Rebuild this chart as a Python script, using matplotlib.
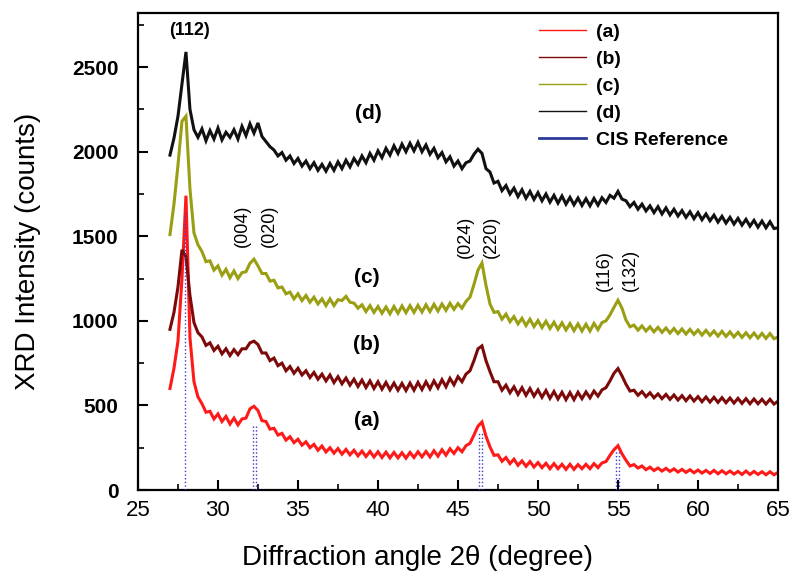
"""XRD patterns of CIS films (a)-(d) with CIS reference sticks."""
import matplotlib
matplotlib.use("Agg")
import matplotlib.pyplot as plt
import numpy as np
from matplotlib.ticker import MultipleLocator

# 2-theta sampling (degrees), one value every 0.25 deg from 27 to 65
two_theta = np.arange(27.0, 65.001, 0.25)

# intensities, rows of 8 = 2 degrees each
counts_a = [
    600, 720, 880, 1250, 1740, 900, 640, 550,
    510, 460, 465, 420, 450, 405, 435, 390,
    425, 385, 420, 425, 480, 495, 470, 410,
    405, 360, 365, 325, 335, 295, 315, 280,
    300, 265, 285, 250, 270, 235, 260, 225,
    250, 218, 245, 212, 240, 208, 235, 202,
    230, 198, 228, 195, 226, 192, 224, 190,
    222, 190, 220, 188, 222, 192, 226, 196,
    228, 196, 232, 200, 238, 206, 244, 216,
    250, 226, 262, 276, 325, 378, 402, 318,
    255, 205, 208, 170, 192, 156, 182, 146,
    172, 140, 168, 136, 162, 132, 158, 126,
    156, 126, 152, 122, 152, 122, 150, 126,
    152, 126, 156, 132, 160, 168, 205, 238,
    262, 214, 176, 142, 150, 130, 142, 120,
    135, 115, 130, 112, 128, 110, 125, 106,
    122, 104, 120, 102, 118, 100, 116, 98,
    116, 96, 114, 96, 112, 94, 110, 92,
    112, 92, 110, 92, 108, 90, 108, 90,
    104,
]
counts_b = [
    950, 1050, 1200, 1420, 1380, 1150, 990, 930,
    905, 855, 870, 825, 850, 805, 835, 795,
    830, 800, 835, 835, 870, 880, 860, 810,
    810, 765, 780, 735, 750, 705, 730, 690,
    720, 680, 705, 665, 695, 655, 685, 645,
    680, 635, 670, 628, 662, 620, 655, 612,
    650, 606, 645, 600, 640, 596, 636, 592,
    632, 590, 630, 588, 632, 590, 636, 594,
    640, 598, 645, 604, 652, 610, 660, 622,
    670, 640, 685, 705, 765, 835, 852, 765,
    700, 640, 640, 590, 620, 575, 610, 565,
    605, 560, 600, 555, 592, 548, 588, 542,
    582, 538, 578, 534, 576, 534, 578, 540,
    580, 545, 585, 555, 592, 605, 645, 690,
    718, 675, 625, 585, 590, 560, 582, 552,
    575, 545, 568, 540, 565, 536, 562, 532,
    558, 528, 556, 526, 552, 522, 550, 520,
    548, 518, 546, 516, 544, 514, 542, 512,
    540, 510, 538, 510, 536, 508, 536, 508,
    525,
]
counts_c = [
    1510, 1690, 1920, 2180, 2210, 1780, 1520, 1450,
    1410, 1350, 1355, 1300, 1325, 1270, 1305, 1255,
    1295, 1250, 1285, 1290, 1340, 1365, 1325, 1280,
    1280, 1235, 1240, 1195, 1200, 1160, 1170, 1130,
    1160, 1120, 1150, 1110, 1140, 1100, 1130, 1090,
    1130, 1090, 1125, 1120, 1145, 1110, 1105, 1075,
    1095, 1055, 1090, 1050, 1085, 1045, 1082, 1042,
    1085, 1045, 1088, 1048, 1090, 1050, 1092, 1052,
    1095, 1055, 1098, 1058, 1100, 1062, 1104, 1068,
    1102, 1075, 1115, 1140, 1215, 1300, 1342, 1210,
    1100, 1050, 1055, 1010, 1040, 995, 1025, 982,
    1015, 972, 1010, 966, 1002, 960, 998, 955,
    992, 950, 988, 946, 984, 942, 982, 940,
    980, 940, 985, 948, 990, 1000, 1035, 1080,
    1122, 1075, 1005, 965, 975, 945, 970, 940,
    965, 935, 962, 932, 958, 928, 955, 925,
    952, 922, 950, 920, 946, 916, 944, 914,
    940, 910, 938, 908, 935, 905, 932, 902,
    930, 900, 928, 898, 926, 896, 925, 894,
    905,
]
counts_d = [
    1980, 2080, 2210, 2400, 2590, 2250, 2130, 2085,
    2135, 2065, 2125, 2075, 2140, 2070, 2115, 2085,
    2130, 2075, 2150, 2095, 2165, 2110, 2170, 2090,
    2060, 2030, 2010, 1975, 1995, 1950, 1975, 1930,
    1960, 1915, 1945, 1900, 1935, 1890, 1925, 1885,
    1930, 1890, 1940, 1900, 1950, 1910, 1960, 1925,
    1975, 1935, 1990, 1950, 2005, 1965, 2020, 1980,
    2035, 1990, 2045, 2000, 2050, 2005, 2055, 2000,
    2040, 1985, 2020, 1965, 1995, 1940, 1970, 1915,
    1945, 1900, 1935, 1945, 1985, 2015, 1990, 1900,
    1880, 1815, 1825, 1770, 1800, 1750, 1785, 1735,
    1775, 1725, 1765, 1718, 1758, 1710, 1750, 1702,
    1742, 1696, 1738, 1690, 1730, 1686, 1726, 1682,
    1722, 1680, 1724, 1684, 1728, 1700, 1742, 1725,
    1765, 1720, 1710, 1675, 1700, 1660, 1690, 1650,
    1680, 1640, 1675, 1632, 1668, 1626, 1660, 1620,
    1652, 1612, 1645, 1604, 1640, 1598, 1632, 1592,
    1625, 1584, 1618, 1578, 1612, 1572, 1606, 1566,
    1600, 1560, 1594, 1554, 1590, 1550, 1586, 1546,
    1550,
]

series_labels = ["(a)", "(b)", "(c)", "(d)"]
series_colors = ["#ff1a1a", "#7d0a0a", "#9a9e12", "#111111"]

# CIS reference sticks
ref_pos = [27.92, 32.18, 32.40, 46.30, 46.48, 54.90, 55.08]
ref_height = [1650, 380, 380, 340, 340, 230, 230]

# plane labels: (text, x, y)
planes = [("(004)", 31.55, 1560), ("(020)", 33.2, 1560),
          ("(024)", 45.45, 1495), ("(220)", 47.1, 1495),
          ("(116)", 54.15, 1300), ("(132)", 55.75, 1300)]
curve_tags = [("(a)", 39.3, 410), ("(b)", 39.3, 860),
              ("(c)", 39.3, 1255), ("(d)", 39.4, 2228)]

plt.rcParams["font.family"] = ["Liberation Sans", "DejaVu Sans"]

fig = plt.figure(figsize=(7.92, 5.76), dpi=100)
ax = fig.add_axes([0.1742, 0.1493, 0.8081, 0.8281])

for ys, lab, col in zip([counts_a, counts_b, counts_c, counts_d],
                        series_labels, series_colors):
    ax.plot(two_theta, ys, color=col, lw=2.2, solid_joinstyle="miter",
            label=lab)

ax.vlines(ref_pos, 0, ref_height, colors="#3a3ad0", linestyles=":",
          lw=1.0, zorder=5)
ax.plot([], [], color="#2a3a9a", lw=2.0, label="CIS Reference")

ax.text(28.25, 2718, "(112)", ha="center", va="center", fontsize=13,
        fontweight="bold")
for txt, x, y in planes:
    ax.text(x, y, txt, rotation=90, ha="center", va="center", fontsize=13)
for txt, x, y in curve_tags:
    ax.text(x, y, txt, ha="center", va="center", fontsize=15,
            fontweight="bold")

ax.set_xlim(25, 65)
ax.set_ylim(0, 2820)
ax.xaxis.set_major_locator(MultipleLocator(5))
ax.xaxis.set_minor_locator(MultipleLocator(2.5))
ax.yaxis.set_major_locator(MultipleLocator(500))
ax.yaxis.set_minor_locator(MultipleLocator(250))
ax.tick_params(which="both", direction="in", top=False, right=False)
ax.tick_params(which="major", length=7, width=1.5)
ax.tick_params(which="minor", length=4, width=1.2)
ax.tick_params(axis="x", labelsize=16, pad=7)
ax.tick_params(axis="y", labelsize=15, pad=14)
for lbl in ax.get_yticklabels():
    lbl.set_fontweight("bold")
for sp in ax.spines.values():
    sp.set_linewidth(1.6)

ax.set_xlabel("Diffraction angle 2θ (degree)", fontsize=20)
ax.set_ylabel("XRD Intensity (counts)", fontsize=20)
ax.xaxis.set_label_coords(0.436, -0.115)
ax.yaxis.set_label_coords(-0.152, 0.5)

leg = ax.legend(loc="upper left", bbox_to_anchor=(0.6, 1.015),
                frameon=False, handlelength=2.4, handletextpad=0.5,
                labelspacing=0.48, prop={"weight": "bold", "size": 14})
for h in leg.get_lines()[:4]:
    h.set_linewidth(1.0)

fig.savefig("out.png", dpi=100)
